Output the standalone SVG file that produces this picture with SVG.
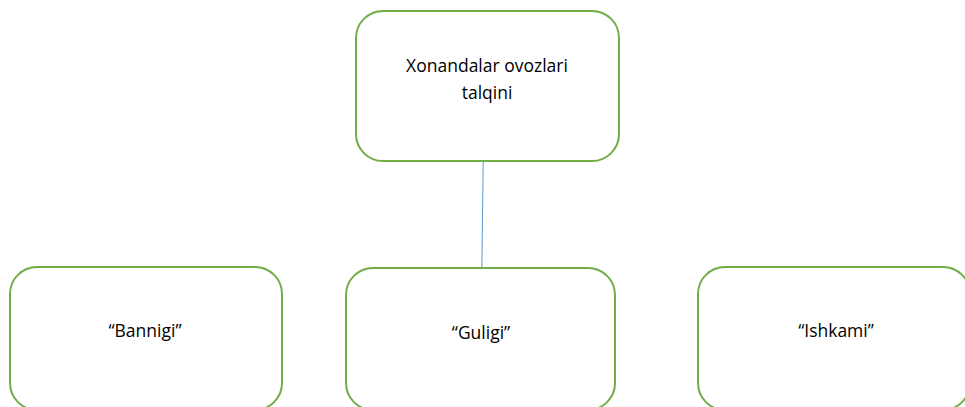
<svg xmlns="http://www.w3.org/2000/svg" width="965" height="407" viewBox="0 0 965 407">
  <style>
    .box { fill: #ffffff; stroke: #70AD47; stroke-width: 2; }
    .label { font-family: "Open Sans", "Noto Sans", "Liberation Sans", sans-serif; font-size: 17.5px; fill: #000000; text-anchor: middle; }
    .link { stroke: #5B9BD5; stroke-width: 1; fill: none; }
  </style>
  <rect width="965" height="407" fill="#ffffff"/>
  <g id="connectors">
    <line class="link" x1="483.3" y1="154" x2="481.8" y2="272"/>
  </g>
  <g id="node-root">
    <rect class="box" x="356" y="11" width="263" height="150" rx="27" ry="27"/>
    <text class="label" x="487" y="72">Xonandalar ovozlari</text>
    <text class="label" x="487" y="99">talqini</text>
  </g>
  <g id="node-bannigi">
    <rect class="box" x="10" y="267" width="272" height="143" rx="27" ry="27"/>
    <text class="label" x="145" y="337">“Bannigi”</text>
  </g>
  <g id="node-guligi">
    <rect class="box" x="346" y="268" width="269" height="142" rx="27" ry="27"/>
    <text class="label" x="481" y="339">“Guligi”</text>
  </g>
  <g id="node-ishkami">
    <rect class="box" x="698" y="267" width="272" height="143" rx="27" ry="27"/>
    <text class="label" x="836" y="337">“Ishkami”</text>
  </g>
</svg>
